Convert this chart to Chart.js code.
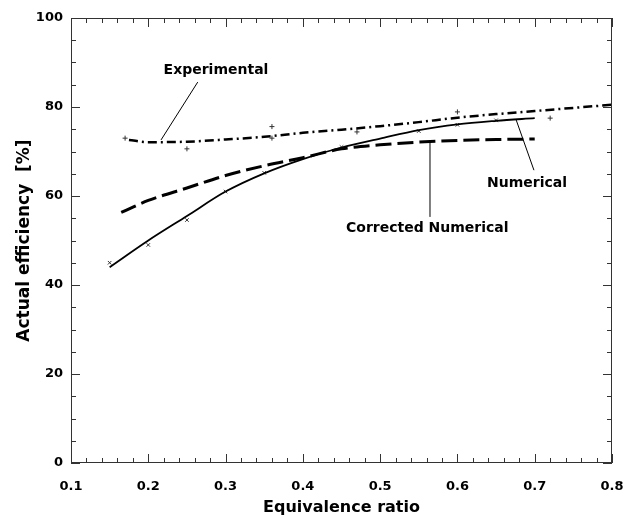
<!DOCTYPE html>
<html>
<head>
<meta charset="utf-8">
<script src="https://cdn.jsdelivr.net/npm/chart.js@4.4.1/dist/chart.umd.min.js"></script>
<style>
  html, body { margin: 0; padding: 0; background: #fff; }
  canvas { display: block; }
</style>
</head>
<body>
<canvas id="effChart" width="631" height="518"></canvas>
<script>
// values
const numericalX = [0.15, 0.2, 0.25, 0.3, 0.35, 0.4, 0.45, 0.5, 0.55, 0.6, 0.65, 0.7];
const numericalY = [44, 50, 55.5, 61, 65.1, 68.3, 70.9, 72.9, 74.8, 76.1, 76.9, 77.5];
const numericalPtsX = [0.15, 0.2, 0.25, 0.3, 0.35, 0.45, 0.55, 0.6, 0.65];
const numericalPtsY = [45, 49, 54.6, 61, 65.2, 71, 74.6, 76, 77];

const correctedX = [0.165, 0.2, 0.25, 0.3, 0.35, 0.4, 0.45, 0.5, 0.55, 0.6, 0.65, 0.7];
const correctedY = [56.3, 59, 61.8, 64.6, 66.8, 68.6, 70.6, 71.5, 72.1, 72.5, 72.7, 72.8];

const experimentalX = [0.175, 0.2, 0.25, 0.3, 0.35, 0.4, 0.45, 0.5, 0.55, 0.6, 0.65, 0.7, 0.75, 0.8];
const experimentalY = [72.6, 72.1, 72.2, 72.7, 73.3, 74.2, 74.9, 75.7, 76.6, 77.6, 78.4, 79.1, 79.8, 80.5];
const experimentalPtsX = [0.17, 0.25, 0.36, 0.36, 0.47, 0.6, 0.72];
const experimentalPtsY = [73, 70.6, 75.6, 73, 74.4, 78.9, 77.5];

const xMajorTicks = [0.1, 0.2, 0.3, 0.4, 0.5, 0.6, 0.7, 0.8];
const yMajorTicks = [0, 20, 40, 60, 80, 100];

// label text + leader line, in data units
const callouts = [
    { text: 'Experimental', at: [0.2876, 88.3], from: [0.264, 85.6], to: [0.2165, 72.6] },
    { text: 'Numerical', at: [0.69, 62.9], from: [0.699, 65.8], to: [0.676, 77.1] },
    { text: 'Corrected Numerical', at: [0.561, 52.8], from: [0.5645, 55.3], to: [0.5645, 72.1] }
];

const pairs = (xs, ys) => xs.map((x, i) => ({ x, y: ys[i] }));
const isMajor = (v, list) => list.some(m => Math.abs(m - v) < 1e-6);
const boldFont = size => ({ family: 'DejaVu Sans', size, weight: 'bold' });

const frameAndTicks = {
    id: 'frameAndTicks',
    afterDatasetsDraw(chart) {
        const { ctx, chartArea: a, scales: { x, y } } = chart;
        ctx.save();
        ctx.strokeStyle = '#333';
        ctx.lineWidth = 1;
        ctx.strokeRect(a.left + 0.5, a.top + 0.5, a.right - a.left - 1, a.bottom - a.top - 1);

        ctx.beginPath();
        x.ticks.forEach(t => {
            const px = Math.round(x.getPixelForValue(t.value)) + 0.5;
            const len = isMajor(t.value, xMajorTicks) ? 9 : 5;
            ctx.moveTo(px, a.bottom); ctx.lineTo(px, a.bottom - len);
            ctx.moveTo(px, a.top); ctx.lineTo(px, a.top + len);
        });
        y.ticks.forEach(t => {
            const py = Math.round(y.getPixelForValue(t.value)) + 0.5;
            const len = isMajor(t.value, yMajorTicks) ? 9 : 5;
            ctx.moveTo(a.left, py); ctx.lineTo(a.left + len, py);
            ctx.moveTo(a.right, py); ctx.lineTo(a.right - len, py);
        });
        ctx.stroke();

        // callouts
        ctx.strokeStyle = '#000';
        ctx.fillStyle = '#000';
        ctx.font = 'bold 14px "DejaVu Sans"';
        ctx.textAlign = 'center';
        ctx.textBaseline = 'middle';
        callouts.forEach(c => {
            ctx.beginPath();
            ctx.moveTo(x.getPixelForValue(c.from[0]), y.getPixelForValue(c.from[1]));
            ctx.lineTo(x.getPixelForValue(c.to[0]), y.getPixelForValue(c.to[1]));
            ctx.stroke();
            ctx.fillText(c.text, x.getPixelForValue(c.at[0]), y.getPixelForValue(c.at[1]));
        });
        ctx.restore();
    }
};

new Chart(document.getElementById('effChart'), {
    type: 'scatter',
    data: {
        datasets: [
            {
                label: 'Numerical',
                data: pairs(numericalX, numericalY),
                showLine: true,
                borderColor: '#000',
                borderWidth: 1.8,
                pointRadius: 0,
                cubicInterpolationMode: 'monotone'
            },
            {
                label: 'Corrected Numerical',
                data: pairs(correctedX, correctedY),
                showLine: true,
                borderColor: '#000',
                borderWidth: 3,
                borderDash: [16, 6],
                pointRadius: 0,
                cubicInterpolationMode: 'monotone'
            },
            {
                label: 'Experimental',
                data: pairs(experimentalX, experimentalY),
                showLine: true,
                borderColor: '#000',
                borderWidth: 2.5,
                borderDash: [9, 4, 2, 4],
                pointRadius: 0,
                cubicInterpolationMode: 'monotone'
            },
            {
                label: 'Numerical points',
                data: pairs(numericalPtsX, numericalPtsY),
                showLine: false,
                pointStyle: 'crossRot',
                pointRadius: 2.5,
                borderColor: '#333',
                borderWidth: 1
            },
            {
                label: 'Experimental points',
                data: pairs(experimentalPtsX, experimentalPtsY),
                showLine: false,
                pointStyle: 'cross',
                pointRadius: 2.5,
                borderColor: '#333',
                borderWidth: 1
            }
        ]
    },
    options: {
        responsive: false,
        animation: false,
        devicePixelRatio: 1,
        layout: { padding: { top: 18, right: 19, left: 0, bottom: 0 } },
        plugins: { legend: { display: false }, tooltip: { enabled: false } },
        scales: {
            x: {
                type: 'linear',
                min: 0.1,
                max: 0.8,
                afterFit: scale => {
                    scale.height = 55;
                    scale.paddingLeft = 0;
                    scale.paddingRight = 0;
                },
                grid: { drawOnChartArea: false, drawTicks: false },
                border: { display: false },
                ticks: {
                    stepSize: 0.02,
                    autoSkip: false,
                    maxRotation: 0,
                    padding: 16,
                    color: '#000',
                    font: boldFont(13),
                    callback: v => isMajor(v, xMajorTicks) ? v.toFixed(1) : ''
                },
                title: {
                    display: true,
                    text: 'Equivalence ratio',
                    color: '#000',
                    font: boldFont(16),
                    padding: { top: 0, bottom: 1 }
                }
            },
            y: {
                min: 0,
                max: 100,
                afterFit: scale => {
                    scale.width = 71;
                    scale.paddingTop = 0;
                    scale.paddingBottom = 0;
                },
                grid: { drawOnChartArea: false, drawTicks: false },
                border: { display: false },
                ticks: {
                    stepSize: 5,
                    autoSkip: false,
                    padding: 8,
                    color: '#000',
                    font: boldFont(13),
                    callback: v => isMajor(v, yMajorTicks) ? String(v) : ''
                },
                title: {
                    display: true,
                    text: 'Actual efficiency  [%]',
                    color: '#000',
                    font: boldFont(17),
                    padding: { top: 14, bottom: 0 }
                }
            }
        }
    },
    plugins: [frameAndTicks]
});
</script>
</body>
</html>
